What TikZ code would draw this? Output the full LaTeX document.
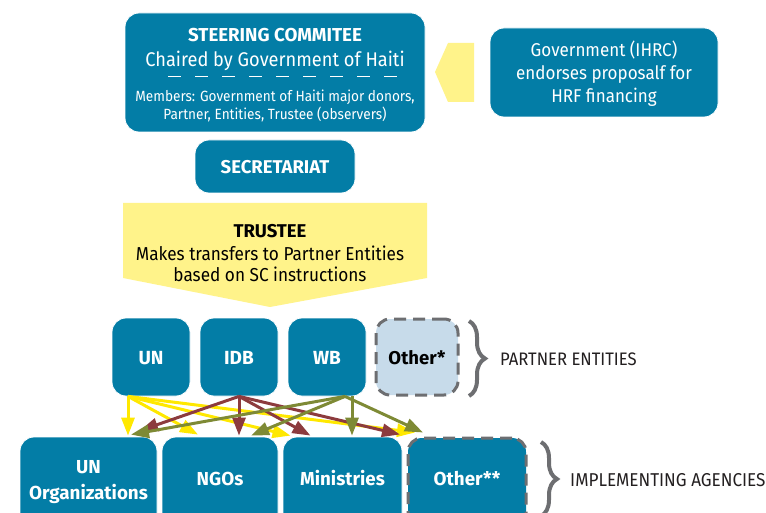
\documentclass[tikz,border=0pt]{standalone}
\usepackage{fontspec}
\setmainfont[FakeStretch=0.92, BoldFeatures={FakeStretch=1.0}]{Fira Sans}
\usetikzlibrary{arrows.meta,calc,decorations.pathreplacing}
\definecolor{sblue}{RGB}{3,125,166}
\definecolor{tyellow}{RGB}{255,243,138}
\definecolor{ayellow}{RGB}{255,232,0}
\definecolor{amaroon}{RGB}{140,59,62}
\definecolor{aolive}{RGB}{126,138,53}
\definecolor{dgray}{RGB}{109,110,113}
\definecolor{lblue}{RGB}{199,219,234}
\definecolor{ink}{RGB}{35,31,32}
\newcommand{\myfs}[1]{\fontsize{#1}{#1}\selectfont}
\begin{document}
\begin{tikzpicture}[x=1pt,y=-1pt,
  box/.style={draw=white, line width=0.8pt, fill=sblue, rounded corners=14pt, inner sep=0pt},
  dbox/.style={draw=dgray, line width=3pt, dash pattern=on 12pt off 7pt, rounded corners=14pt, inner sep=0pt},
  wtxt/.style={text=white, inner sep=0pt, anchor=base},
  btxt/.style={text=white, inner sep=0pt, anchor=base, font=\bfseries\myfs{19}},
  ltxt/.style={text=ink, inner sep=0pt, anchor=base west},
  brc/.style={draw=dgray, line width=4pt, decorate, decoration={brace, amplitude=16pt}},
  arr/.style={line width=3pt, -{Triangle[length=18pt,width=13pt]}}]
\useasboundingbox (0,0) rectangle (766,513);
\clip (0,0) rectangle (766,513);

% steering committee
\node[box, minimum width=300pt, minimum height=119pt] (sc) at (275,72.5) {};
\node[wtxt, font=\bfseries\myfs{18.7}] (sct) at (275,42) {STEERING COMMITEE};
\node[wtxt, font=\myfs{19.8}] (scc) at (275,67) {Chaired by Government of Haiti};
\draw[white, line width=1pt, dash pattern=on 13pt off 14pt] (168,77) -- (402,77);
\node[wtxt, font=\myfs{14.8}] (scm1) at (275,102) {Members: Government of Haiti major donors,};
\node[wtxt, font=\myfs{14.8}] (scm2) at (275,120) {Partner, Entities, Trustee (observers)};

% government
\fill[tyellow] (474,43) -- (448,43) -- (435,72) -- (448,102) -- (474,102) -- cycle;
\node[box, minimum width=228pt, minimum height=89pt] (gov) at (604,72.5) {};
\node[wtxt, font=\myfs{18.5}] (gov1) at (604,57) {Government (IHRC)};
\node[wtxt, font=\myfs{18.5}] (gov2) at (604,80) {endorses proposalf for};
\node[wtxt, font=\myfs{18.5}] (gov3) at (604,103) {HRF financing};

% secretariat
\node[box, minimum width=160pt, minimum height=53pt] (sec) at (275,166.5) {};
\node[btxt, font=\bfseries\myfs{18.5}] (sect) at (275,174) {SECRETARIAT};

% trustee
\fill[tyellow] (123,203) -- (427,203) -- (427,278) -- (270,307) -- (123,278) -- cycle;
\node[wtxt, text=black, font=\bfseries\myfs{18.5}] (tr1) at (270,238) {TRUSTEE};
\node[wtxt, text=black, font=\myfs{18.7}] (tr2) at (270,261) {Makes transfers to Partner Entities};
\node[wtxt, text=black, font=\myfs{18.7}] (tr3) at (270,282) {based on SC instructions};

% partner entities
\node[box, minimum width=78pt, minimum height=78pt] (un) at (151,357) {};
\node[box, minimum width=78pt, minimum height=78pt] (idb) at (239,357) {};
\node[box, minimum width=78pt, minimum height=78pt] (wb) at (327,357) {};
\node[dbox, fill=lblue, minimum width=82pt, minimum height=76pt] (oth) at (417,357) {};
\node[btxt] (unt) at (151,364) {UN};
\node[btxt] (idbt) at (239,364) {IDB};
\node[btxt] (wbt) at (327,364) {WB};
\node[btxt, text=black, font=\bfseries\myfs{18.5}] (otht) at (417,364) {Other*};
\draw[brc] (469,321) -- (469,396);
\node[ltxt, font=\myfs{18.1}] (pe) at (500,365) {PARTNER ENTITIES};

% implementing agencies
\node[box, minimum width=137pt, minimum height=95pt] (unorg) at (88.5,484.5) {};
\node[box, minimum width=116pt, minimum height=95pt] (ngo) at (220,484.5) {};
\node[box, minimum width=119pt, minimum height=95pt] (min) at (342.5,484.5) {};
\node[dbox, fill=sblue, minimum width=118pt, minimum height=93pt] (oth2) at (467,484.5) {};
\node[btxt, font=\bfseries\myfs{18.8}] (unorg1) at (88.5,473) {UN};
\node[btxt, font=\bfseries\myfs{18.8}] (unorg2) at (88.5,499) {Organizations};
\node[btxt, font=\bfseries\myfs{18.8}] (ngot) at (220,485) {NGOs};
\node[btxt, font=\bfseries\myfs{18.8}] (mint) at (342.5,485) {Ministries};
\node[btxt, font=\bfseries\myfs{18.8}] (oth2t) at (467,485) {Other**};
\draw[brc] (541,442) -- (541,516);
\node[ltxt, font=\myfs{18.6}] (ia) at (570,486) {IMPLEMENTING AGENCIES};

% connectors
\begin{scope}[arr, ayellow]
\draw ($(un.south)+(-23,0)$) -- ($(unorg.north)+(39.5,-1)$);
\draw ($(un.south)+(-23,0)$) -- ($(ngo.north)+(-22,-2)$);
\draw ($(un.south)+(-23,0)$) -- ($(min.north)+(-52,-1)$);
\draw ($(un.south)+(-23,0)$) -- ($(oth2.north)+(-52,-4)$);
\end{scope}
\begin{scope}[arr, amaroon]
\draw (idb.south) -- ($(unorg.north)+(51.5,-6)$);
\draw (idb.south) -- ($(ngo.north)+(19,-1)$);
\draw (idb.south) -- ($(min.north)+(-32,-1)$);
\draw (idb.south) -- ($(oth2.north)+(-67,-2)$);
\end{scope}
\begin{scope}[arr, aolive]
\draw ($(wb.south)+(18,0)$) -- ($(unorg.north)+(42.5,-2)$);
\draw ($(wb.south)+(18,0)$) -- ($(ngo.north)+(31,-1)$);
\draw ($(wb.south)+(25,0)$) -- ($(min.north)+(9.5,-1)$);
\draw ($(wb.south)+(18,0)$) -- ($(oth2.north)+(-44,-4)$);
\end{scope}
\end{tikzpicture}
\end{document}
